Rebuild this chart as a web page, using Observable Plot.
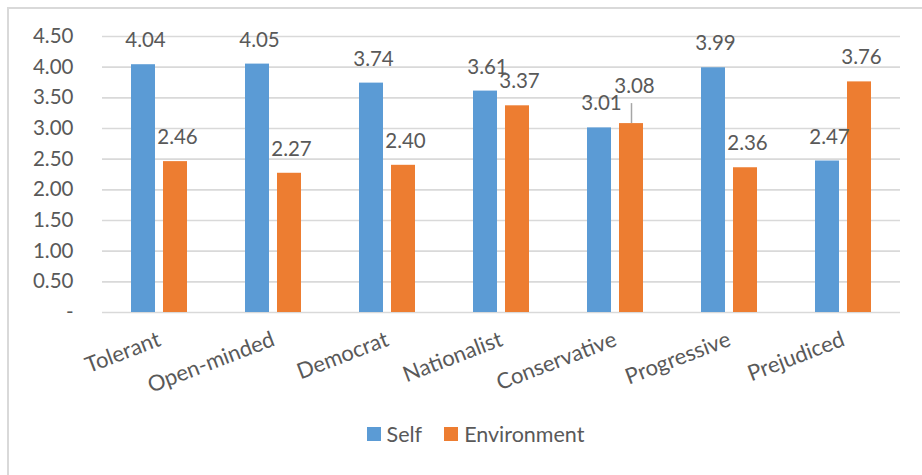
<!DOCTYPE html>
<html>
<head>
<meta charset="utf-8">
<script src="https://cdn.jsdelivr.net/npm/d3@7"></script>
<script src="https://cdn.jsdelivr.net/npm/@observablehq/plot@0.6"></script>
<style>
  html, body { margin: 0; padding: 0; background: #fff; overflow: hidden; }
  body { width: 922px; height: 475px; position: relative; font-family: Lato, "Open Sans", sans-serif; color: #595959; }
  #frame { position: absolute; left: 7px; top: 7px; width: 960px; height: 500px; border: 2px solid #D9D9D9; box-sizing: border-box; }
  #chart { position: absolute; left: 0; top: 0; }
  #legend { position: absolute; left: 0; top: 422px; width: 951px; display: flex; justify-content: center; align-items: center; font-size: 21.5px; line-height: 24px; }
  .item { display: flex; align-items: center; margin: 0 11px; }
  .swatch { width: 14px; height: 14px; margin-right: 6px; }
</style>
</head>
<body>
<div id="frame"></div>
<div id="chart"></div>
<div id="legend"></div>
<script>
// Trait ratings: how respondents rate themselves vs. their environment
const categories = ["Tolerant", "Open-minded", "Democrat", "Nationalist", "Conservative", "Progressive", "Prejudiced"];
const seriesNames = ["Self", "Environment"];
const selfValues = [4.04, 4.05, 3.74, 3.61, 3.01, 3.99, 2.47];
const environmentValues = [2.46, 2.27, 2.40, 3.37, 3.08, 2.36, 3.76];
const yTicks = [0, 0.5, 1, 1.5, 2, 2.5, 3, 3.5, 4, 4.5];
const colors = ["#5B9BD5", "#ED7D31"];

// The one value label that sits higher, joined to its bar by a leader line
const raisedLabel = {category: "Conservative", series: "Environment"};

const rows = categories.flatMap((c, i) => [
  {category: c, series: "Self", value: selfValues[i]},
  {category: c, series: "Environment", value: environmentValues[i]}
]);
const isRaised = (d) => d.category === raisedLabel.category && d.series === raisedLabel.series;
const fmt = (v) => v.toFixed(2);

const textColor = "#595959";
const gridColor = "#D9D9D9";

const chart = Plot.plot({
  width: 922,
  height: 420,
  marginLeft: 101,
  marginRight: 22,
  marginTop: 36,
  marginBottom: 108,
  style: {fontFamily: "Lato, 'Open Sans', sans-serif", color: textColor, background: "transparent", overflow: "visible"},
  fx: {domain: categories, padding: 0, label: null},
  x: {domain: seriesNames, paddingInner: 0.242, paddingOuter: 0.85, axis: null},
  y: {domain: [0, 4.5], label: null},
  color: {domain: seriesNames, range: colors},
  marks: [
    Plot.ruleY(yTicks, {y: (d) => d, stroke: gridColor, strokeWidth: 1.6}),
    Plot.barY(rows, {fx: "category", x: "series", y: "value", fill: "series"}),
    Plot.ruleX(rows.filter(isRaised), {
      fx: "category", x: "series", y1: "value", y2: "value",
      insetBottom: 20, stroke: "#A6A6A6", strokeWidth: 1.5
    }),
    Plot.text(rows.filter((d) => !isRaised(d)), {
      fx: "category", x: "series", y: "value",
      text: (d) => fmt(d.value),
      dx: 2, dy: -24,
      fontSize: 20.5, fill: textColor
    }),
    Plot.text(rows.filter(isRaised), {
      fx: "category", x: "series", y: "value",
      text: (d) => fmt(d.value),
      dx: 3, dy: -37,
      fontSize: 20.5, fill: textColor
    }),
    Plot.axisY({
      ticks: yTicks,
      tickFormat: (d) => d === 0 ? "-" : d.toFixed(2),
      tickSize: 0, tickPadding: 29,
      fontSize: 20.5, fill: textColor, label: null
    }),
    Plot.axisFx({
      anchor: "bottom",
      tickSize: 0, tickPadding: 26,
      tickRotate: -21,
      textAnchor: "end", lineAnchor: "middle",
      fontSize: 22, fill: textColor, label: null
    })
  ]
});
document.getElementById("chart").appendChild(chart);

// Legend below the chart
const legend = document.getElementById("legend");
seriesNames.forEach((name, i) => {
  const item = document.createElement("div");
  item.className = "item";
  const sw = document.createElement("span");
  sw.className = "swatch";
  sw.style.background = colors[i];
  const label = document.createElement("span");
  label.textContent = name;
  item.appendChild(sw);
  item.appendChild(label);
  legend.appendChild(item);
});
</script>
</body>
</html>
